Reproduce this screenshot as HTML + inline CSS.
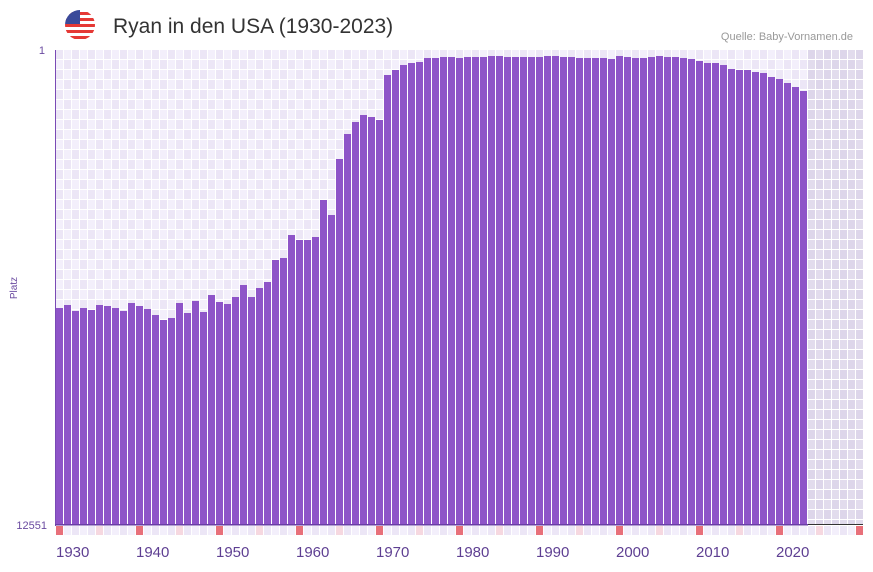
<!DOCTYPE html>
<html><head><meta charset="utf-8"><style>
body{margin:0;background:#fff;font-family:"Liberation Sans","DejaVu Sans",sans-serif;}
</style></head><body>
<svg id="s" width="873" height="567" xmlns="http://www.w3.org/2000/svg" font-family="Liberation Sans, DejaVu Sans, sans-serif">
<defs>
<clipPath id="fc"><circle cx="80" cy="25" r="15"/></clipPath>
</defs>
<g clip-path="url(#fc)">
<rect x="65" y="10" width="30" height="30" fill="#fff"/>
<rect x="65" y="12" width="30" height="3" fill="#e53935"/>
<rect x="65" y="18" width="30" height="3" fill="#e53935"/>
<rect x="65" y="24" width="30" height="3" fill="#e53935"/>
<rect x="65" y="30" width="30" height="3" fill="#e53935"/>
<rect x="65" y="36" width="30" height="3" fill="#e53935"/>
<rect x="65" y="10" width="15" height="14" fill="#3a4a9a"/>
</g>
<text x="113" y="33" font-size="21" fill="#333">Ryan in den USA (1930-2023)</text>
<text x="853" y="40" font-size="11" fill="#999" text-anchor="end">Quelle: Baby-Vornamen.de</text>
<text x="45" y="54" font-size="11" fill="#6a4aa0" text-anchor="end">1</text>
<text x="47" y="529" font-size="11" fill="#6a4aa0" text-anchor="end">12551</text>
<text x="17" y="288" font-size="10" fill="#6a4aa0" text-anchor="middle" transform="rotate(-90 17 288)">Platz</text>
<g id="g"></g>
</svg>
<script>
var g=document.getElementById('g'),h='';
function r(x,y,w,hh,f){h+='<rect x="'+x+'" y="'+y+'" width="'+w+'" height="'+hh+'" fill="'+f+'"/>';}
for(var i=0;i<101;i++){var x=56+i*8;var sh=i>=94;var w=Math.min(7,863-x);
 for(var j=0;j<48;j++){var y=50+j*10;var hh=Math.min(9,525-y);if(hh<=0)continue;
  var c=sh?((i+j)%2?'#e2dced':'#ddd6ea'):((i+j)%2?'#f3effb':'#ece6f6');r(x,y,w,hh,c);}
 var sc=(i%10==0)?'#e8707a':(i%10==5)?'#f6d8e0':((i%2)?'#f3effb':'#ece6f6');
 r(x,526,w,9,sc);
}
var t=[308,305,311,308,310,305,306,308,311,303,306,309,315,320,318,303,313,301,312,295,302,304,297,285,297,288,282,260,258,235,240,240,237,200,215,159,134,122,115,117,120,75,70,65,63,62,58,58,57,57,58,57,57,57,56,56,57,57,57,57,56,56,57,57,58,58,58,58,59,56,57,58,58,57,56,57,57,58,59,61,63,63,65,69,70,70,72,73,77,79,83,87,91];
t.splice(60,0,57);
for(var i=0;i<t.length;i++){r(56+i*8,t[i],7,525-t[i],'#8e54c8');}
r(55,50,1,476,'#7a4ab5');r(55,524,753,1.5,'#6a3ea5');r(808,524,55,1,'#333');
for(var k=0;k<10;k++){h+='<text x="'+(56+k*80)+'" y="557" font-size="15" fill="#5e3f92">'+(1930+k*10)+'</text>';}
g.innerHTML=h;
</script>
</body></html>
